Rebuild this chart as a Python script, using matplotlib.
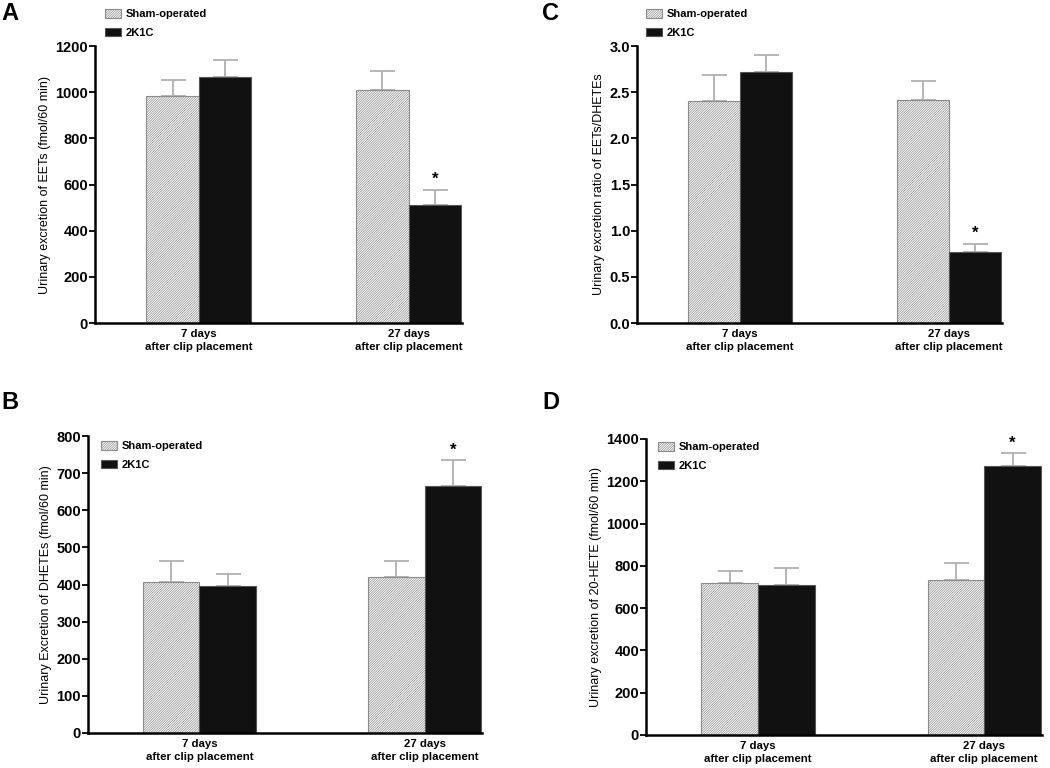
import matplotlib
matplotlib.use('Agg')
import matplotlib.pyplot as plt
import numpy as np

plt.rcParams['font.family'] = ['Liberation Sans', 'DejaVu Sans']
plt.rcParams['hatch.linewidth'] = 0.5

groups = ['7 days\nafter clip placement', '27 days\nafter clip placement']
legend_labels = ['Sham-operated', '2K1C']

# A: EETs
eets_sham = [983, 1010]
eets_sham_err = [70, 83]
eets_2k1c = [1066, 511]
eets_2k1c_err = [74, 65]

# C: EETs/DHETEs ratio
ratio_sham = [2.40, 2.41]
ratio_sham_err = [0.29, 0.21]
ratio_2k1c = [2.72, 0.77]
ratio_2k1c_err = [0.18, 0.09]

# B: DHETEs
dhetes_sham = [408, 420]
dhetes_sham_err = [56, 44]
dhetes_2k1c = [397, 664]
dhetes_2k1c_err = [32, 71]

# D: 20-HETE
hete_sham = [718, 735]
hete_sham_err = [57, 78]
hete_2k1c = [708, 1270]
hete_2k1c_err = [80, 62]

W, H = 1050, 768
fig = plt.figure(figsize=(W / 100, H / 100), dpi=100)


def add_ax(left, right, top, bottom):
    return fig.add_axes([left / W, 1 - bottom / H, (right - left) / W, (bottom - top) / H])


def draw_panel(ax, sham, sham_err, k1c, k1c_err, ylim, yticks, ylabel, letter, letter_xy,
               legend_xy, fmt='{:.0f}'):
    x = np.arange(len(groups))
    w = 0.25
    b1 = ax.bar(x - w / 2, sham, w, color='white', edgecolor='#8c8c8c', hatch='/' * 14,
                linewidth=0.8, zorder=2)
    b2 = ax.bar(x + w / 2, k1c, w, color='#111111', edgecolor='#555555', linewidth=0.8, zorder=2)
    ax.errorbar(x - w / 2, sham, yerr=[np.zeros(2), sham_err], fmt='none', ecolor='#b0b0b0',
                elinewidth=1.3, capsize=9, capthick=1.3, zorder=1)
    ax.errorbar(x + w / 2, k1c, yerr=[np.zeros(2), k1c_err], fmt='none', ecolor='#b0b0b0',
                elinewidth=1.3, capsize=9, capthick=1.3, zorder=1)
    # significance star on 27-day 2K1C bar
    ax.annotate('*', (x[1] + w / 2, k1c[1] + k1c_err[1]), xytext=(0, 2),
                textcoords='offset points', ha='center', va='bottom',
                fontsize=12, fontweight='bold')
    ax.set_xlim(-0.495, 1.255)
    ax.set_ylim(*ylim)
    ax.set_yticks(yticks)
    ax.set_yticklabels([fmt.format(v) for v in yticks])
    ax.set_xticks(x)
    ax.set_xticklabels(groups, fontsize=8.2, fontweight='bold', linespacing=1.45)
    ax.tick_params(axis='x', length=0, pad=4)
    ax.tick_params(axis='y', length=4, width=1.3, labelsize=10.5, pad=1)
    for lab in ax.get_yticklabels():
        lab.set_fontweight('bold')
    for s in ['top', 'right']:
        ax.spines[s].set_visible(False)
    for s in ['left', 'bottom']:
        ax.spines[s].set_linewidth(1.8)
    ax.set_ylabel(ylabel, fontsize=9, labelpad=3)
    fig.text(letter_xy[0] / W, 1 - letter_xy[1] / H, letter, fontsize=17, fontweight='bold',
             ha='left', va='top')
    ax.legend([b1, b2], legend_labels, loc='upper left',
              bbox_to_anchor=(legend_xy[0] / W, 1 - legend_xy[1] / H),
              bbox_transform=fig.transFigure, frameon=False, borderpad=0,
              borderaxespad=0, handlelength=1.45, handleheight=0.85,
              handletextpad=0.4, labelspacing=0.75,
              prop={'weight': 'bold', 'size': 8})


axA = add_ax(95, 462, 46, 323)
draw_panel(axA, eets_sham, eets_sham_err, eets_2k1c, eets_2k1c_err, (0, 1200),
           np.arange(0, 1201, 200), 'Urinary excretion of EETs (fmol/60 min)', 'A',
           (1, 2), (105, 9))

axC = add_ax(637, 1002, 46, 323)
draw_panel(axC, ratio_sham, ratio_sham_err, ratio_2k1c, ratio_2k1c_err, (0, 3.0),
           np.arange(0, 3.01, 0.5), 'Urinary excretion ratio of EETs/DHETEs', 'C',
           (542, 2), (646, 9), fmt='{:.1f}')

axB = add_ax(88, 482, 436, 733)
draw_panel(axB, dhetes_sham, dhetes_sham_err, dhetes_2k1c, dhetes_2k1c_err, (0, 800),
           np.arange(0, 801, 100), 'Urinary Excretion of DHETEs (fmol/60 min)', 'B',
           (1, 391), (101, 441))

axD = add_ax(646, 1042, 439, 735)
draw_panel(axD, hete_sham, hete_sham_err, hete_2k1c, hete_2k1c_err, (0, 1400),
           np.arange(0, 1401, 200), 'Urinary excretion of 20-HETE (fmol/60 min)', 'D',
           (542, 391), (658, 442))

fig.savefig('out.png', dpi=100)
